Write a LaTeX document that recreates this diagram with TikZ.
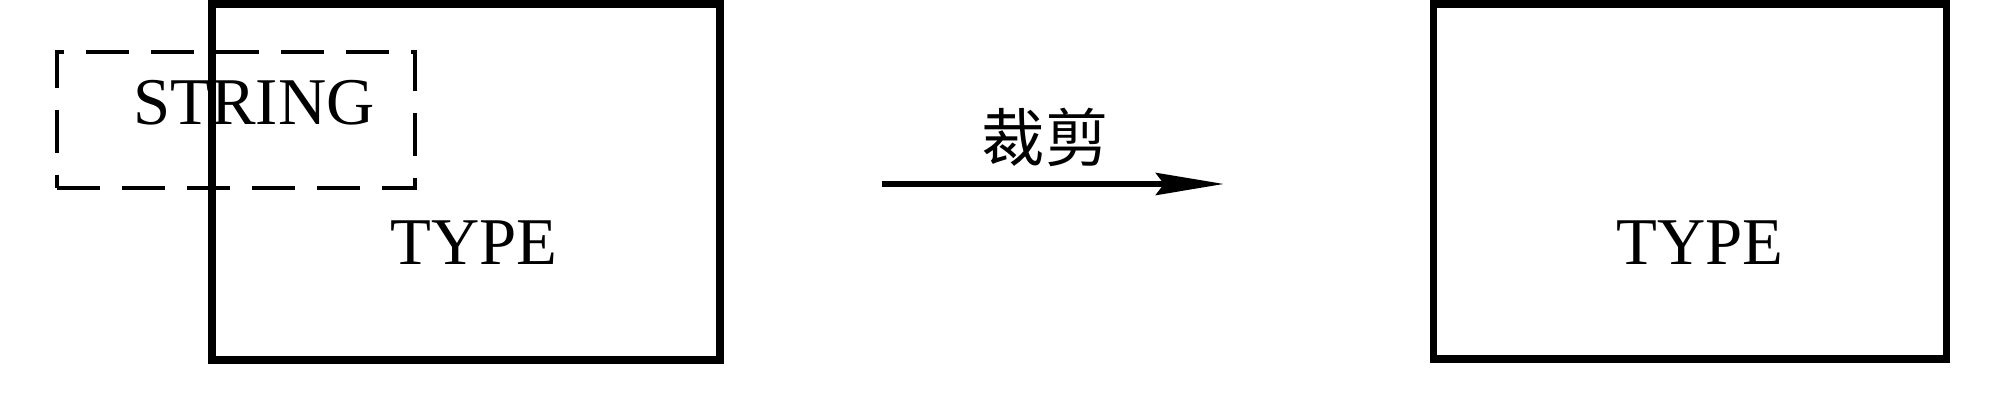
\documentclass[tikz,border=0pt]{standalone}
\usepackage{fontspec}
\setmainfont{Liberation Serif}
\newfontfamily\cjk{Noto Sans CJK SC}
\usetikzlibrary{arrows.meta}
\begin{document}
\begin{tikzpicture}[
	box/.style={rectangle,draw,line width=2.1pt,inner sep=0pt},
	dashbox/.style={rectangle,draw,line width=1.4pt,dash pattern=on 4.3mm off 2.2mm,inner sep=0pt},
	label text/.style={font=\fontsize{19}{23}\selectfont,inner sep=0pt}]
	\useasboundingbox (0,0) rectangle (19.95,4.16);

	\node (type box) [box,minimum width=5.08cm,minimum height=3.56cm] at (4.66,2.34) {};
	\node (string box) [dashbox,minimum width=3.58cm,minimum height=1.36cm] at (2.36,2.96) {};
	\node (cut box) [box,minimum width=5.13cm,minimum height=3.55cm] at (16.90,2.345) {};

	\node (string label) [label text,anchor=base] at (2.54,2.91) {STRING};
	\node (type label) [label text,anchor=base] at (4.74,1.51) {TYPE};
	\node (cut type label) [label text,anchor=base] at (17.00,1.51) {TYPE};

	\coordinate (arrow start) at (8.82,2.32);
	\coordinate (arrow end) at (12.24,2.32);
	\draw[line width=1.7pt,-{Stealth[length=6.8mm,width=2.2mm,inset=0.8mm]}] (arrow start) -- (arrow end);
	\node (cut label) [font=\cjk\fontsize{18}{18}\selectfont,inner sep=0pt] at (10.45,2.79) {裁剪};

\end{tikzpicture}
\end{document}
